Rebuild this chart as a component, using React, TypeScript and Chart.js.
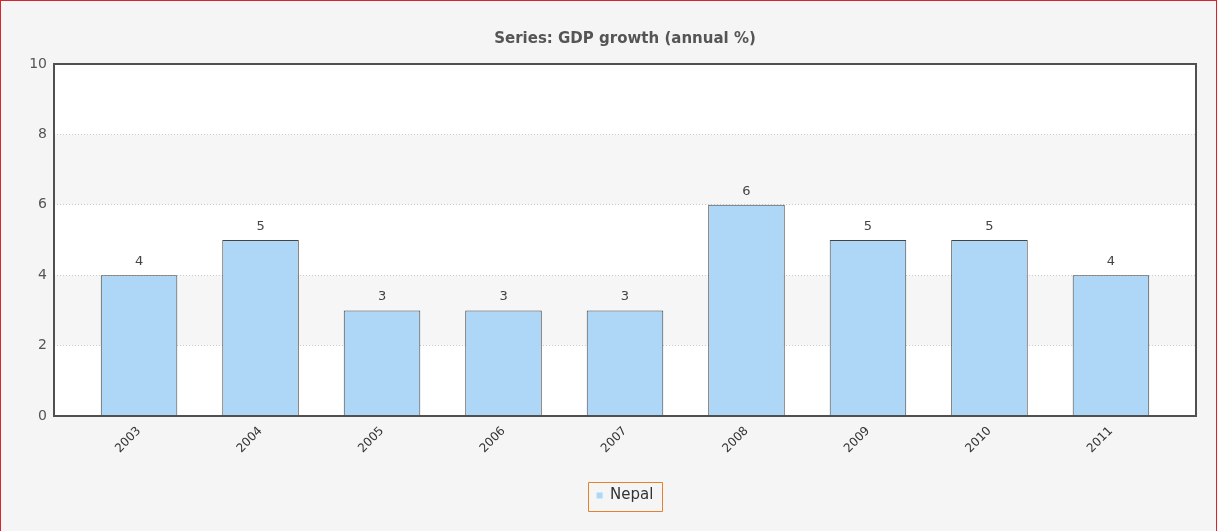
import React, { useEffect, useRef } from "react";
import { Chart, registerables } from "chart.js";

Chart.register(...registerables);

const categories = ["2003", "2004", "2005", "2006", "2007", "2008", "2009", "2010", "2011"];
const gdpGrowth = [4, 5, 3, 3, 3, 6, 5, 5, 4];
const yTickValues = [0, 2, 4, 6, 8, 10];
const seriesName = "Nepal";
const titleText = "Series: GDP growth (annual %)";
const shadedBands = [[2, 4], [6, 8]];

const FONT = "'DejaVu Sans', Verdana, sans-serif";

const centerBlocksPlugin = {
  id: "centerBlocks",
  afterLayout(chart: any) {
    const a = chart.chartArea;
    [chart.titleBlock, chart.legend].forEach((b: any) => {
      if (!b) return;
      b.left = a.left;
      b.right = a.right;
      b.width = a.right - a.left;
    });
  },
};

const bandsPlugin = {
  id: "bands",
  beforeDraw(chart: any) {
    const { ctx, chartArea: a, scales } = chart;
    const y = scales.y;
    ctx.save();
    ctx.fillStyle = "#ffffff";
    ctx.fillRect(a.left, a.top, a.right - a.left, a.bottom - a.top);
    ctx.fillStyle = "#f6f6f6";
    shadedBands.forEach(([lo, hi]) => {
      const t = y.getPixelForValue(hi);
      const b = y.getPixelForValue(lo);
      ctx.fillRect(a.left, t, a.right - a.left, b - t);
    });
    ctx.restore();
  },
};

const labelsPlugin = {
  id: "valueLabels",
  afterDatasetsDraw(chart: any) {
    const { ctx } = chart;
    const meta = chart.getDatasetMeta(0);
    const data = chart.data.datasets[0].data;
    ctx.save();
    ctx.font = `13px ${FONT}`;
    ctx.fillStyle = "#444444";
    ctx.textAlign = "center";
    ctx.textBaseline = "bottom";
    meta.data.forEach((bar: any, i: number) => {
      ctx.fillText(String(data[i].y), bar.x, bar.y - 7);
    });
    ctx.restore();
  },
};

const framePlugin = {
  id: "frame",
  afterDraw(chart: any) {
    const { ctx, chartArea: a } = chart;
    ctx.save();
    ctx.setLineDash([]);
    ctx.strokeStyle = "#505050";
    ctx.lineWidth = 2;
    ctx.strokeRect(a.left, a.top, a.right - a.left, a.bottom - a.top);
    const lg = chart.legend;
    if (lg && lg.legendHitBoxes && lg.legendHitBoxes.length) {
      const hb = lg.legendHitBoxes[0];
      const cy = hb.top + hb.height / 2;
      const x0 = Math.round(hb.left - 9) + 0.5;
      const x1 = Math.round(hb.left + hb.width + 9) + 0.5;
      const y0 = Math.round(cy - 14) + 0.5;
      const y1 = Math.round(cy + 15) + 0.5;
      ctx.strokeStyle = "#e5812c";
      ctx.lineWidth = 1;
      ctx.beginPath();
      ctx.rect(x0, y0, x1 - x0, y1 - y0);
      ctx.stroke();
    }
    ctx.restore();
  },
};

export default function App() {
  const ref = useRef<HTMLCanvasElement | null>(null);

  useEffect(() => {
    const canvas = ref.current;
    if (!canvas) return;
    const points = categories.map((_, i) => ({ x: i, y: gdpGrowth[i] }));
    const chart = new Chart(canvas, {
      type: "bar",
      data: {
        datasets: [
          {
            label: seriesName,
            data: points,
            backgroundColor: "#aed6f6",
            borderColor: "#444444",
            borderWidth: 1,
            barPercentage: 0.63,
            categoryPercentage: 1,
          },
        ],
      },
      options: {
        responsive: false,
        animation: false,
        layout: { padding: { top: 0, right: 22, bottom: 18, left: 0 } },
        plugins: {
          title: {
            display: true,
            text: titleText,
            color: "#555555",
            font: { family: FONT, size: 15, weight: "bold" },
            padding: { top: 30, bottom: 16 },
          },
          legend: {
            display: true,
            position: "bottom",
            labels: {
              boxWidth: 6,
              boxHeight: 6,
              color: "#333333",
              font: { family: FONT, size: 15 },
              padding: 10,
              generateLabels: () => [
                {
                  text: seriesName,
                  fillStyle: "#aed6f6",
                  strokeStyle: "rgba(0,0,0,0)",
                  lineWidth: 0,
                  fontColor: "#333333",
                  datasetIndex: 0,
                  hidden: false,
                },
              ],
            },
          },
          tooltip: { enabled: false },
        },
        scales: {
          x: {
            type: "linear",
            min: -0.7,
            max: categories.length - 1 + 0.7,
            offset: false,
            afterBuildTicks(scale: any) {
              scale.ticks = categories.map((_, i) => ({ value: i }));
            },
            grid: { display: false, drawTicks: false },
            border: { display: false },
            ticks: {
              color: "#333333",
              font: { family: FONT, size: 12 },
              minRotation: 45,
              maxRotation: 45,
              autoSkip: false,
              padding: 8,
              callback: (v: any) => categories[Math.round(Number(v))] ?? "",
            },
            afterFit(scale: any) {
              scale.height = 62;
            },
          },
          y: {
            min: 0,
            max: 10,
            afterBuildTicks(scale: any) {
              scale.ticks = yTickValues.map((v) => ({ value: v }));
            },
            grid: {
              color: (c: any) => (c.tick && (c.tick.value === 0 || c.tick.value === 10) ? "rgba(0,0,0,0)" : "#cccccc"),
              drawTicks: false,
              lineWidth: 1,
            },
            border: { display: false, dash: [1, 2] },
            ticks: {
              color: "#555555",
              font: { family: FONT, size: 14 },
              padding: 7,
            },
            afterFit(scale: any) {
              scale.width = 54;
            },
          },
        },
      },
      plugins: [centerBlocksPlugin, bandsPlugin, labelsPlugin, framePlugin],
    } as any);
    return () => chart.destroy();
  }, []);

  return (
    <div style={{ position: "fixed", left: 0, top: 0, width: 1218, height: 531, background: "#f5f5f5", overflow: "hidden" }}>
      <div
        style={{
          position: "absolute",
          left: 0,
          top: 0,
          width: 1217,
          height: 545,
          boxSizing: "border-box",
          border: "1px solid #d4262e",
        }}
      />
      <canvas ref={ref} width={1218} height={531} style={{ position: "absolute", left: 0, top: 0, width: 1218, height: 531 }} />
    </div>
  );
}
